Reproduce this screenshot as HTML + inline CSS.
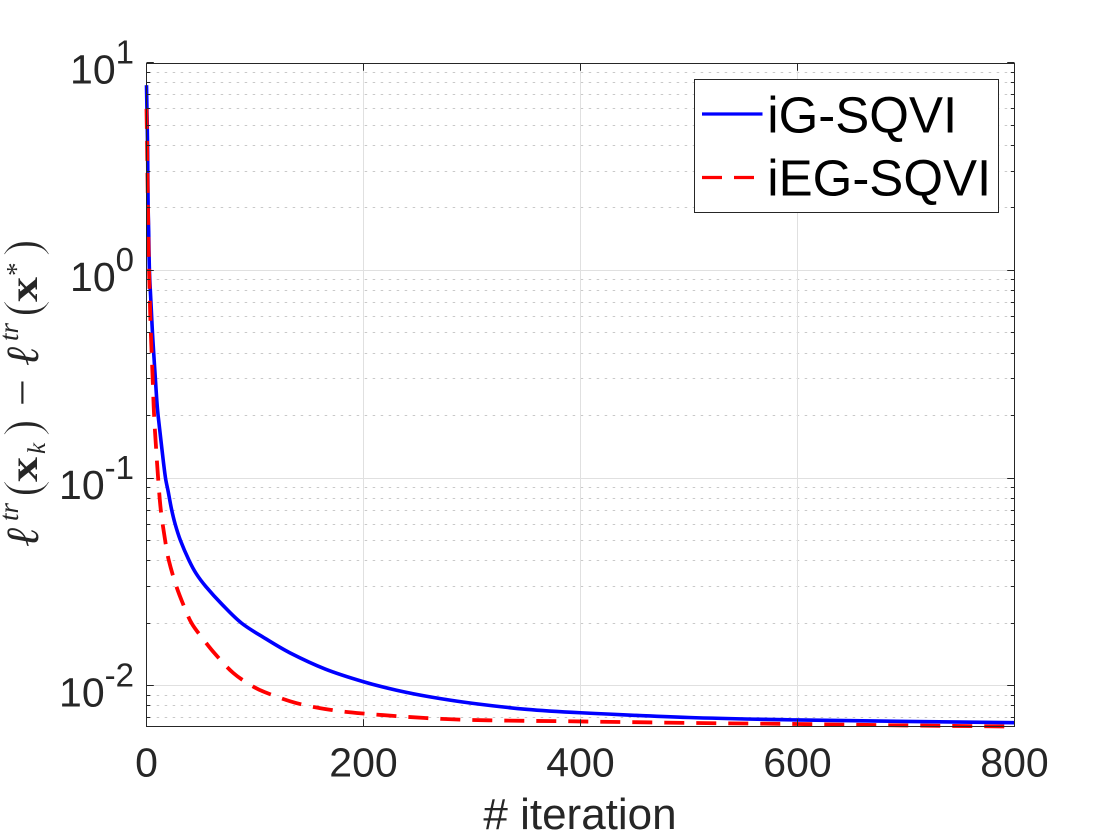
<!DOCTYPE html>
<html lang="en">
<head>
<meta charset="utf-8">
<title>Training loss gap per iteration</title>
<style>
html,body{margin:0;padding:0;background:#fff;width:1120px;height:840px;overflow:hidden}
svg{display:block;font-family:"Liberation Sans",sans-serif}
.ml{font-family:"Liberation Serif",serif;fill:#262626}
.paren{stroke:#fff;stroke-width:1.4px}
</style>
</head>
<body>
<svg id="chart" width="1120" height="840" viewBox="0 0 1120 840" xmlns="http://www.w3.org/2000/svg">
  <rect width="1120" height="840" fill="#fff"/>
  <g id="grid"></g>
  <g id="series"></g>
  <g id="ticks"></g>
  <rect x="146.5" y="63.5" width="868" height="663" fill="none" stroke="#262626" stroke-width="1"/>
  <g id="labels"></g>

  <text x="580" y="829" text-anchor="middle" font-size="44" fill="#262626"># iteration</text>

  <g class="ml">
    <text transform="translate(38,547) rotate(-90)" font-size="46" font-style="italic">ℓ</text>
    <text transform="translate(18,521) rotate(-90)" font-size="27" font-style="italic">tr</text>
    <text class="paren" transform="translate(39,497) rotate(-90)" font-size="52">(</text>
    <text transform="translate(37,482) rotate(-90)" font-size="40" font-weight="bold" textLength="25" lengthAdjust="spacingAndGlyphs">x</text>
    <text transform="translate(45,454) rotate(-90)" font-size="25" font-style="italic">k</text>
    <text class="paren" transform="translate(39,436.5) rotate(-90)" font-size="52">)</text>
    <text transform="translate(37,406) rotate(-90)" font-size="44" textLength="27" lengthAdjust="spacingAndGlyphs">−</text>
    <text transform="translate(38,366) rotate(-90)" font-size="46" font-style="italic">ℓ</text>
    <text transform="translate(18,341) rotate(-90)" font-size="27" font-style="italic">tr</text>
    <text class="paren" transform="translate(39,317) rotate(-90)" font-size="52">(</text>
    <text transform="translate(37,302) rotate(-90)" font-size="40" font-weight="bold" textLength="25" lengthAdjust="spacingAndGlyphs">x</text>
    <text transform="translate(25,276) rotate(-90)" font-size="27">*</text>
    <text class="paren" transform="translate(39,256.5) rotate(-90)" font-size="52">)</text>
  </g>

  <g>
    <rect x="694.5" y="79.5" width="304" height="133" fill="#fff" stroke="#262626" stroke-width="1"/>
    <line x1="702" y1="114" x2="762.5" y2="114" stroke="#0000ff" stroke-width="3.3"/>
    <text x="767.3" y="132.7" font-size="51" fill="#000">iG-SQVI</text>
    <line x1="702" y1="177.5" x2="762.5" y2="177.5" stroke="#ff0000" stroke-width="3.3" stroke-dasharray="20 12"/>
    <text x="767.3" y="195.7" font-size="51" fill="#000">iEG-SQVI</text>
  </g>
</svg>
<script>
var xTicks = [0, 200, 400, 600, 800];
var yTickExponents = [1, 0, -1, -2];
var yMinorValues = [
  0.2, 0.3, 0.4, 0.5, 0.6, 0.7, 0.8, 0.9,
  2, 3, 4, 5, 6, 7, 8, 9,
  0.02, 0.03, 0.04, 0.05, 0.06, 0.07, 0.08, 0.09,
  0.007, 0.008, 0.009
];
var igIterations = [0, 0.5, 1, 1.5, 2, 2.7, 4, 5.5, 6.5, 9.5, 10.7, 14, 17.5, 20, 23, 26.4, 31.3, 39.3, 46, 54.7, 70, 87.6, 110, 132, 165, 200, 230, 262, 300, 350, 400, 500, 600, 700, 800];
var igValues = [7.8, 5.6, 3.9, 2.02, 1.55, 1.0, 0.717, 0.5, 0.41, 0.236, 0.2, 0.141, 0.1, 0.086, 0.071, 0.06, 0.05, 0.04, 0.0345, 0.03, 0.0245, 0.02, 0.0168, 0.0144, 0.012, 0.01044, 0.00951, 0.00881, 0.00822, 0.00769, 0.0074, 0.00702, 0.00683, 0.00672, 0.00663];
var iegIterations = [0, 0.5, 1, 1.5, 2, 3, 4, 5.5, 7, 9, 10.7, 13.2, 17.2, 20.6, 27.6, 34, 41.5, 52, 63, 80, 96.8, 109, 138, 169, 198, 257, 300, 400, 500, 600, 700, 800];
var iegValues = [6.0, 4.2, 2.6, 1.8, 1.2, 0.75, 0.5, 0.32, 0.2, 0.135, 0.1, 0.07, 0.05, 0.04, 0.03, 0.0245, 0.02, 0.0168, 0.01425, 0.0115, 0.01, 0.0093, 0.00824, 0.00765, 0.00735, 0.00698, 0.00683, 0.00672, 0.00661, 0.00653, 0.00643, 0.00635];

var NS = 'http://www.w3.org/2000/svg';
var plotLeft = 146.5, plotRight = 1014.5, plotTop = 63.5, plotBottom = 726.5;
var xMin = 0, xMax = 800, decadeOne = 270.4, decadePx = 207.6;
function xScale(v) { return plotLeft + (v - xMin) / (xMax - xMin) * (plotRight - plotLeft); }
function yScale(v) { return decadeOne - decadePx * Math.log10(v); }
function snap(p) { return Math.floor(p) + 0.5; }
function make(tag, attrs, parent) {
  var el = document.createElementNS(NS, tag);
  for (var k in attrs) { el.setAttribute(k, attrs[k]); }
  parent.appendChild(el);
  return el;
}
function segment(parent, x1, y1, x2, y2, color, dash) {
  var attrs = { x1: x1, y1: y1, x2: x2, y2: y2, stroke: color, 'stroke-width': 1 };
  if (dash) { attrs['stroke-dasharray'] = dash; }
  return make('line', attrs, parent);
}
var grid = document.getElementById('grid');
var ticks = document.getElementById('ticks');
var labels = document.getElementById('labels');
var series = document.getElementById('series');

yMinorValues.forEach(function (v) {
  var y = snap(yScale(v));
  var g = segment(grid, plotLeft + 2.2, y, plotRight - 4, y, '#c9c9c9', '2.5 5.5');
  
  
  var t1 = segment(ticks, plotLeft, y, plotLeft + 3.7, y, '#262626');
  
  
  var t2 = segment(ticks, plotRight - 3.7, y, plotRight, y, '#262626');
  
  
});

yTickExponents.forEach(function (e) {
  var value = Math.pow(10, e);
  var raw = yScale(value);
  var y = snap(raw);
  if (e !== 1) {
    var g = segment(grid, plotLeft, y, plotRight, y, '#e0e0e0');
    
    
  }
  var t1 = segment(ticks, plotLeft, y, plotLeft + 7.3, y, '#262626');
  
  
  var t2 = segment(ticks, plotRight - 7.3, y, plotRight, y, '#262626');
  
  
  var txt = make('text', { x: 134, y: raw + 20.8, 'text-anchor': 'end', 'font-size': 41, fill: '#262626' }, labels);
  
  
  txt.appendChild(document.createTextNode('10'));
  var sup = make('tspan', { dy: -20, 'font-size': 33 }, txt);
  sup.textContent = String(e);
});

xTicks.forEach(function (v) {
  var x = snap(xScale(v));
  if (v !== xMin && v !== xMax) {
    var g = segment(grid, x, plotTop, x, plotBottom, '#e0e0e0');
    
    
  }
  var t1 = segment(ticks, x, plotBottom - 7.3, x, plotBottom, '#262626');
  
  
  var t2 = segment(ticks, x, plotTop, x, plotTop + 7.3, '#262626');
  
  
  var txt = make('text', { x: xScale(v), y: 776.5, 'text-anchor': 'middle', 'font-size': 41, fill: '#262626' }, labels);
  
  
  txt.textContent = String(v);
});

function pathFor(iters, vals) {
  var pts = iters.map(function (it, i) { return [xScale(it), yScale(vals[i])]; });
  var tangents = pts.map(function (p, i) {
    var a = pts[Math.max(i - 1, 0)], b = pts[Math.min(i + 1, pts.length - 1)];
    var dx = b[0] - a[0], dy = b[1] - a[1], len = Math.hypot(dx, dy) || 1;
    return [dx / len, dy / len];
  });
  var d = 'M' + pts[0][0].toFixed(2) + ' ' + pts[0][1].toFixed(2);
  for (var i = 1; i < pts.length; i++) {
    var p = pts[i - 1], q = pts[i];
    var h = Math.hypot(q[0] - p[0], q[1] - p[1]) / 3;
    d += ' C' + (p[0] + tangents[i - 1][0] * h).toFixed(2) + ' ' + (p[1] + tangents[i - 1][1] * h).toFixed(2) +
         ' ' + (q[0] - tangents[i][0] * h).toFixed(2) + ' ' + (q[1] - tangents[i][1] * h).toFixed(2) +
         ' ' + q[0].toFixed(2) + ' ' + q[1].toFixed(2);
  }
  return d;
}
var blue = make('path', { d: pathFor(igIterations, igValues), fill: 'none', stroke: '#0000ff', 'stroke-width': 3.6, 'stroke-linejoin': 'round' }, series);


var red = make('path', { d: pathFor(iegIterations, iegValues), fill: 'none', stroke: '#ff0000', 'stroke-width': 3.8, 'stroke-dasharray': '20 12', 'stroke-linejoin': 'round' }, series);


</script>
</body>
</html>
